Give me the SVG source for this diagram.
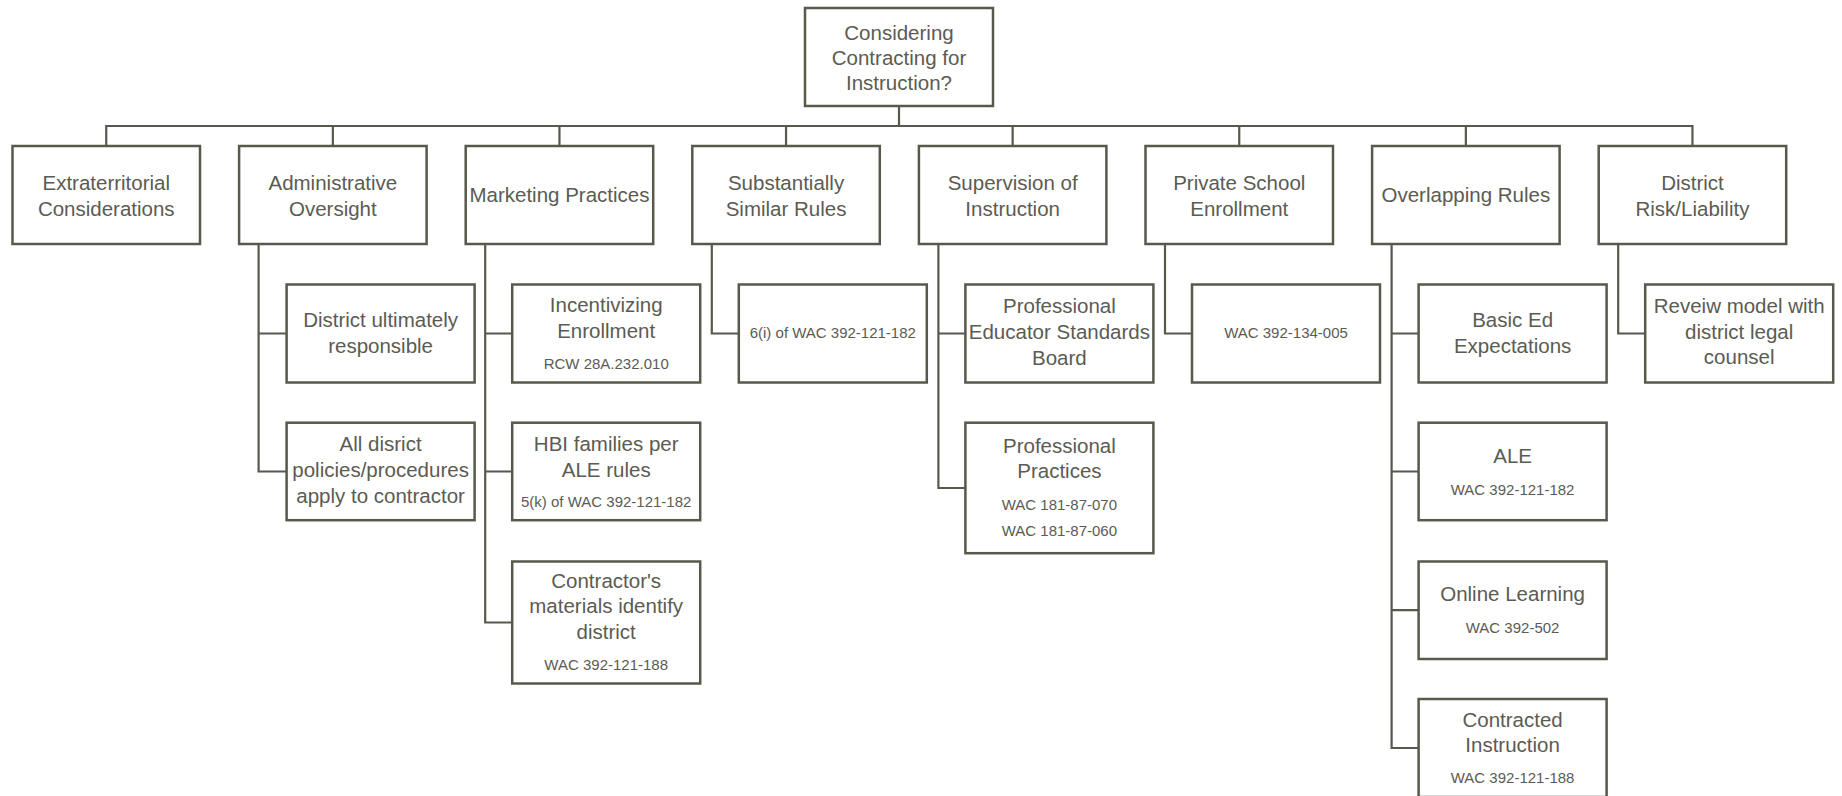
<svg xmlns="http://www.w3.org/2000/svg" width="1842" height="796" viewBox="0 0 1842 796">
<style>
.box{fill:#fff;stroke:#58584c;stroke-width:2.5}
.c{fill:none;stroke:#58584c;stroke-width:2.2}
text{font-family:"Liberation Sans",Arial,sans-serif;fill:#5b5b53;text-anchor:middle}
.m{font-size:20.5px}
.s{font-size:15px}
</style>
<rect width="1842" height="796" fill="#fff"/>
<g id="connectors">
<path class="c" d="M899 106V126M106.25 146V126H1692.45V146M332.85 126V146M559.45 126V146M786.05 126V146M1012.65 126V146M1239.25 126V146M1465.85 126V146"/>
<path class="c" d="M258.6 244V471.5H286.6M258.6 333.5H286.6"/>
<path class="c" d="M485.2 244V622.5H512.2M485.2 333.5H512.2M485.2 471.5H512.2"/>
<path class="c" d="M711.8 244V333.5H738.8"/>
<path class="c" d="M938.4 244V488H965.4M938.4 333.5H965.4"/>
<path class="c" d="M1165 244V333.5H1192"/>
<path class="c" d="M1391.6 244V748H1418.6M1391.6 333.5H1418.6M1391.6 471.5H1418.6M1391.6 610.2H1418.6"/>
<path class="c" d="M1618.2 244V333.5H1645.2"/>
</g>
<g id="root"><rect class="box" x="805" y="8" width="188" height="98"/>
<text class="m" x="899" y="39.5">Considering</text><text class="m" x="899" y="64.5">Contracting for</text><text class="m" x="899" y="89.5">Instruction?</text></g>
<g id="extraterritorial"><rect class="box" x="12.5" y="146" width="187.5" height="98"/>
<text class="m" x="106.25" y="189.5">Extraterritorial</text><text class="m" x="106.25" y="215.5">Considerations</text></g>
<g id="administrative"><rect class="box" x="239.1" y="146" width="187.5" height="98"/>
<text class="m" x="332.85" y="189.5">Administrative</text><text class="m" x="332.85" y="215.5">Oversight</text></g>
<g id="marketing"><rect class="box" x="465.7" y="146" width="187.5" height="98"/>
<text class="m" x="559.45" y="202">Marketing Practices</text></g>
<g id="substantially"><rect class="box" x="692.3" y="146" width="187.5" height="98"/>
<text class="m" x="786.05" y="189.5">Substantially</text><text class="m" x="786.05" y="215.5">Similar Rules</text></g>
<g id="supervision"><rect class="box" x="918.9" y="146" width="187.5" height="98"/>
<text class="m" x="1012.65" y="189.5">Supervision of</text><text class="m" x="1012.65" y="215.5">Instruction</text></g>
<g id="private"><rect class="box" x="1145.5" y="146" width="187.5" height="98"/>
<text class="m" x="1239.25" y="189.5">Private School</text><text class="m" x="1239.25" y="215.5">Enrollment</text></g>
<g id="overlapping"><rect class="box" x="1372.1" y="146" width="187.5" height="98"/>
<text class="m" x="1465.85" y="202">Overlapping Rules</text></g>
<g id="risk"><rect class="box" x="1598.7" y="146" width="187.5" height="98"/>
<text class="m" x="1692.45" y="189.5">District</text><text class="m" x="1692.45" y="215.5">Risk/Liability</text></g>

<g id="district-responsible"><rect class="box" x="286.6" y="284.5" width="188" height="98"/>
<text class="m" x="380.6" y="326.5">District ultimately</text><text class="m" x="380.6" y="352.5">responsible</text></g>
<g id="policies"><rect class="box" x="286.6" y="422.7" width="188" height="97.5"/>
<text class="m" x="380.6" y="450.7">All disrict</text><text class="m" x="380.6" y="477">policies/procedures</text><text class="m" x="380.6" y="503">apply to contractor</text></g>

<g id="incentivizing"><rect class="box" x="512.2" y="284.5" width="188" height="98"/>
<text class="m" x="606.2" y="311.7">Incentivizing</text><text class="m" x="606.2" y="337.7">Enrollment</text><text class="s" x="606.2" y="369">RCW 28A.232.010</text></g>
<g id="hbi"><rect class="box" x="512.2" y="422.7" width="188" height="97.5"/>
<text class="m" x="606.2" y="450.7">HBI families per</text><text class="m" x="606.2" y="476.7">ALE rules</text><text class="s" x="606.2" y="507">5(k) of WAC 392-121-182</text></g>
<g id="contractors-materials"><rect class="box" x="512.2" y="561.5" width="188" height="122"/>
<text class="m" x="606.2" y="587.7">Contractor's</text><text class="m" x="606.2" y="613.3">materials identify</text><text class="m" x="606.2" y="638.5">district</text><text class="s" x="606.2" y="670">WAC 392-121-188</text></g>

<g id="similar-rule"><rect class="box" x="738.8" y="284.5" width="188" height="98"/>
<text class="s" x="832.8" y="338">6(i) of WAC 392-121-182</text></g>

<g id="pesb"><rect class="box" x="965.4" y="284.5" width="188" height="98"/>
<text class="m" x="1059.4" y="313.3">Professional</text><text class="m" x="1059.4" y="339">Educator Standards</text><text class="m" x="1059.4" y="364.5">Board</text></g>
<g id="practices"><rect class="box" x="965.4" y="422.7" width="188" height="130.5"/>
<text class="m" x="1059.4" y="452.7">Professional</text><text class="m" x="1059.4" y="478.3">Practices</text><text class="s" x="1059.4" y="509.5">WAC 181-87-070</text><text class="s" x="1059.4" y="536">WAC 181-87-060</text></g>

<g id="private-wac"><rect class="box" x="1192" y="284.5" width="188" height="98"/>
<text class="s" x="1286" y="338">WAC 392-134-005</text></g>

<g id="basic-ed"><rect class="box" x="1418.6" y="284.5" width="188" height="98"/>
<text class="m" x="1512.6" y="326.5">Basic Ed</text><text class="m" x="1512.6" y="352.5">Expectations</text></g>
<g id="ale"><rect class="box" x="1418.6" y="422.7" width="188" height="97.5"/>
<text class="m" x="1512.6" y="462.7">ALE</text><text class="s" x="1512.6" y="495">WAC 392-121-182</text></g>
<g id="online"><rect class="box" x="1418.6" y="561.5" width="188" height="97.5"/>
<text class="m" x="1512.6" y="600.7">Online Learning</text><text class="s" x="1512.6" y="632.7">WAC 392-502</text></g>
<g id="contracted"><rect class="box" x="1418.6" y="699" width="188" height="98"/>
<text class="m" x="1512.6" y="726.7">Contracted</text><text class="m" x="1512.6" y="752.3">Instruction</text><text class="s" x="1512.6" y="783.3">WAC 392-121-188</text></g>

<g id="review"><rect class="box" x="1645.2" y="284.5" width="188" height="98"/>
<text class="m" x="1739.2" y="313.3">Reveiw model with</text><text class="m" x="1739.2" y="338.7">district legal</text><text class="m" x="1739.2" y="364.3">counsel</text></g>
</svg>
